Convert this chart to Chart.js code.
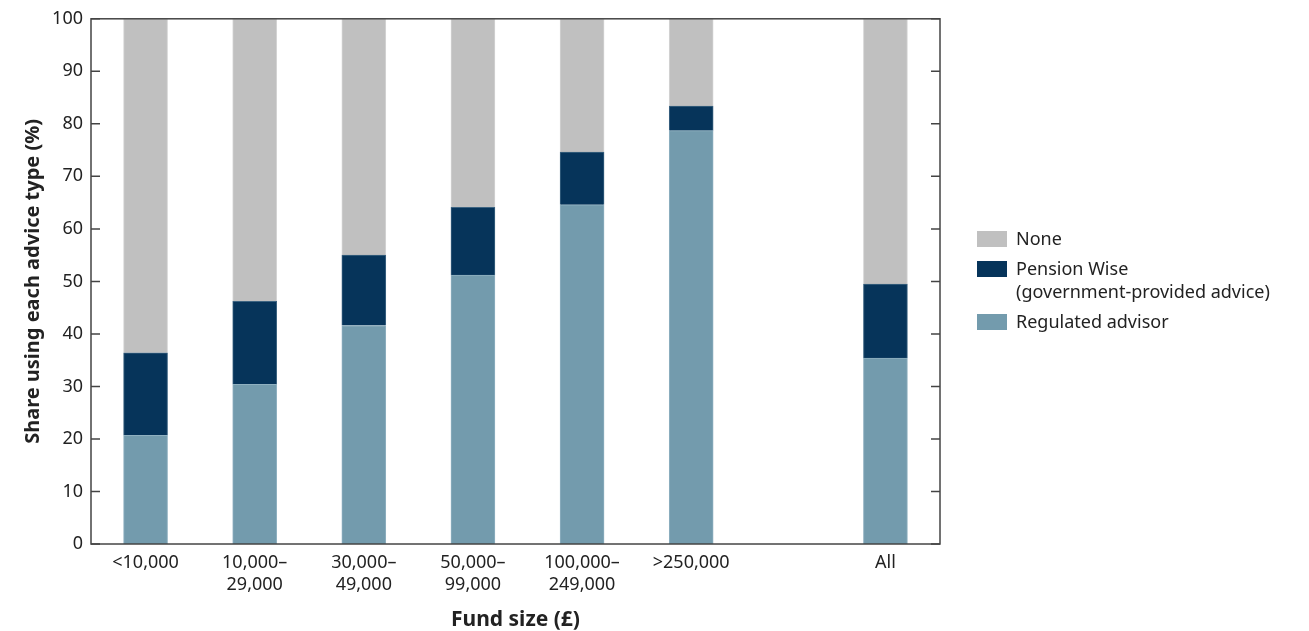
<!DOCTYPE html>
<html>
<head>
<meta charset="utf-8">
<script src="https://cdn.jsdelivr.net/npm/chart.js@4.4.1/dist/chart.umd.min.js"></script>
<style>
  html, body { margin: 0; padding: 0; background: #fff; }
  #wrap { width: 1309px; height: 631px; position: relative; }
</style>
</head>
<body>
<div id="wrap"><canvas id="myChart" width="1309" height="631"></canvas></div>
<script>
    // fund size groups (the last one sits apart from the rest)
    const categories = [['<10,000'], ['10,000–', '29,000'], ['30,000–', '49,000'], ['50,000–', '99,000'], ['100,000–', '249,000'], ['>250,000'], ['All']]
    const regulated = [20.7, 30.4, 41.6, 51.2, 64.6, 78.7, 35.4]
    const pensionWise = [15.7, 15.8, 13.4, 12.9, 10.0, 4.7, 14.1]
    const none = [63.6, 53.8, 45.0, 35.9, 25.4, 16.6, 50.5]
    const yTicks = [0, 10, 20, 30, 40, 50, 60, 70, 80, 90, 100]

    const fontFamily = '"Noto Sans", "Open Sans", sans-serif'
    const axisColor = '#444'

    // slot positions on the x scale, "All" pushed out past an empty gap
    const xPos = categories.map(function (c, i) { return i < 6 ? i : 6.78 })
    function toPoints(arr) {
        return arr.map(function (v, i) { return { x: xPos[i], y: v } })
    }

    const legendItems = [
        { text: ['None'], color: '#c0c0c0' },
        { text: ['Pension Wise', '(government-provided advice)'], color: '#06345a' },
        { text: ['Regulated advisor'], color: '#739bad' }
    ]

    const framePlugin = {
        id: 'frame',
        afterDatasetsDraw(chart) {
            const ctx = chart.ctx
            const a = chart.chartArea
            const y = chart.scales.y
            ctx.save()
            ctx.strokeStyle = axisColor
            ctx.lineWidth = 1.5
            ctx.strokeRect(a.left, a.top, a.right - a.left, a.bottom - a.top)
            // inward tick marks on both sides
            yTicks.forEach(function (t) {
                const py = y.getPixelForValue(t)
                ctx.beginPath()
                ctx.moveTo(a.left, py); ctx.lineTo(a.left + 9, py)
                ctx.moveTo(a.right - 9, py); ctx.lineTo(a.right, py)
                ctx.stroke()
            })
            // legend
            let cy = 239
            const lx = a.right + 37
            ctx.font = '18px ' + fontFamily
            ctx.textBaseline = 'middle'
            legendItems.forEach(function (item) {
                ctx.fillStyle = item.color
                ctx.fillRect(lx, cy - 8, 30, 16)
                ctx.fillStyle = '#222'
                item.text.forEach(function (line, k) {
                    ctx.fillText(line, lx + 39, cy + 1 + k * 23)
                })
                cy += (item.text.length - 1) * 23 + 30
            })
            ctx.restore()
        }
    }

    const datachart = {
        datasets: [
            { label: 'Regulated advisor', data: toPoints(regulated), backgroundColor: '#739bad', borderColor: '#8fb0c0', borderWidth: 1 },
            { label: 'Pension Wise (government-provided advice)', data: toPoints(pensionWise), backgroundColor: '#06345a', borderColor: '#3d6482', borderWidth: 1 },
            { label: 'None', data: toPoints(none), backgroundColor: '#c0c0c0', borderColor: '#d4d4d4', borderWidth: 1 }
        ]
    }

    const config = {
        type: 'bar',
        data: datachart,
        options: {
            responsive: false,
            animation: false,
            barThickness: 44,
            layout: { padding: { top: 9, right: 369, left: 0, bottom: 0 } },
            plugins: { legend: { display: false }, tooltip: { enabled: false } },
            scales: {
                x: {
                    type: 'linear',
                    stacked: true,
                    offset: false,
                    min: -0.5,
                    max: 7.28,
                    grid: { display: false, drawTicks: false, offset: false },
                    border: { display: false },
                    afterBuildTicks: function (scale) {
                        scale.ticks = xPos.map(function (v) { return { value: v } })
                    },
                    afterFit: function (scale) { scale.height = 87 },
                    ticks: {
                        autoSkip: false,
                        maxRotation: 0,
                        padding: 8,
                        color: '#222',
                        font: { family: fontFamily, size: 18, lineHeight: 1.22 },
                        callback: function (value, index) { return categories[index] }
                    },
                    title: {
                        display: true,
                        text: 'Fund size (£)',
                        color: '#222',
                        font: { family: fontFamily, size: 21, weight: 'bold', lineHeight: 1.0 },
                        padding: { top: 0, bottom: 0 }
                    }
                },
                y: {
                    stacked: true,
                    min: 0,
                    max: 100,
                    grid: { display: false, drawTicks: false },
                    border: { display: false },
                    afterBuildTicks: function (scale) {
                        scale.ticks = yTicks.map(function (v) { return { value: v } })
                    },
                    afterFit: function (scale) { scale.width = 91 },
                    ticks: {
                        padding: 8,
                        color: '#222',
                        font: { family: fontFamily, size: 18 }
                    },
                    title: {
                        display: true,
                        text: 'Share using each advice type (%)',
                        color: '#222',
                        font: { family: fontFamily, size: 20, weight: 'bold' },
                        padding: { top: 21, bottom: 0 }
                    }
                }
            }
        },
        plugins: [framePlugin]
    }

    const myChart = new Chart(document.getElementById('myChart'), config)
</script>
</body>
</html>
